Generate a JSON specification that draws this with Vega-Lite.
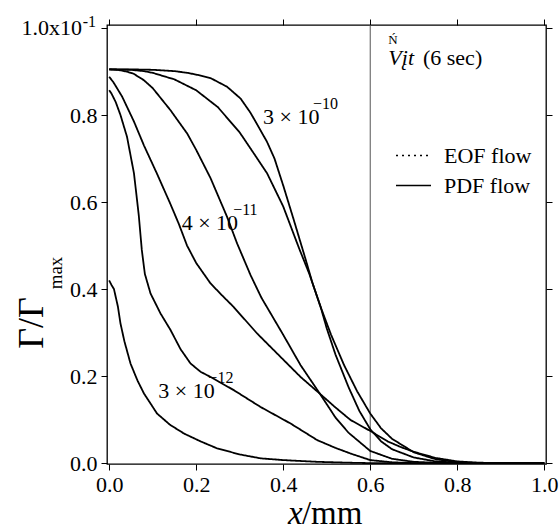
{
  "$schema": "https://vega.github.io/schema/vega-lite/v6.json",
  "width": 439,
  "height": 439,
  "autosize": {"type": "none"},
  "padding": {"left": 107, "top": 25, "right": 14, "bottom": 68},
  "config": {
    "font": "Liberation Serif",
    "text": {"font": "Liberation Serif"},
    "view": {"stroke": "black", "strokeWidth": 1.3},
    "axis": {"grid": false, "domain": false, "ticks": true, "tickColor": "black", "tickSize": 6, "tickWidth": 1, "labelFont": "Liberation Serif", "labelFontSize": 22, "labelColor": "black", "labelPadding": 4}
  },
  "datasets": {
    "curves": [
      {"c": "A", "flow": "PDF flow", "x": 0, "y": 0.905}, {"c": "A", "flow": "PDF flow", "x": 0.05, "y": 0.905}, {"c": "A", "flow": "PDF flow", "x": 0.1, "y": 0.904}, {"c": "A", "flow": "PDF flow", "x": 0.15, "y": 0.901}, {"c": "A", "flow": "PDF flow", "x": 0.18, "y": 0.897}, {"c": "A", "flow": "PDF flow", "x": 0.2, "y": 0.893}, {"c": "A", "flow": "PDF flow", "x": 0.233, "y": 0.885}, {"c": "A", "flow": "PDF flow", "x": 0.271, "y": 0.865}, {"c": "A", "flow": "PDF flow", "x": 0.302, "y": 0.838}, {"c": "A", "flow": "PDF flow", "x": 0.325, "y": 0.805}, {"c": "A", "flow": "PDF flow", "x": 0.345, "y": 0.77}, {"c": "A", "flow": "PDF flow", "x": 0.363, "y": 0.738}, {"c": "A", "flow": "PDF flow", "x": 0.38, "y": 0.7}, {"c": "A", "flow": "PDF flow", "x": 0.401, "y": 0.635}, {"c": "A", "flow": "PDF flow", "x": 0.424, "y": 0.56}, {"c": "A", "flow": "PDF flow", "x": 0.451, "y": 0.47}, {"c": "A", "flow": "PDF flow", "x": 0.467, "y": 0.415}, {"c": "A", "flow": "PDF flow", "x": 0.486, "y": 0.359}, {"c": "A", "flow": "PDF flow", "x": 0.5, "y": 0.31}, {"c": "A", "flow": "PDF flow", "x": 0.52, "y": 0.25}, {"c": "A", "flow": "PDF flow", "x": 0.55, "y": 0.175}, {"c": "A", "flow": "PDF flow", "x": 0.575, "y": 0.12}, {"c": "A", "flow": "PDF flow", "x": 0.6, "y": 0.078}, {"c": "A", "flow": "PDF flow", "x": 0.625, "y": 0.05}, {"c": "A", "flow": "PDF flow", "x": 0.65, "y": 0.032}, {"c": "A", "flow": "PDF flow", "x": 0.7, "y": 0.013}, {"c": "A", "flow": "PDF flow", "x": 0.75, "y": 0.004}, {"c": "A", "flow": "PDF flow", "x": 0.8, "y": 0.001}, {"c": "A", "flow": "PDF flow", "x": 0.85, "y": 0}, {"c": "A", "flow": "PDF flow", "x": 1.0, "y": 0},
      {"c": "B", "flow": "PDF flow", "x": 0, "y": 0.905}, {"c": "B", "flow": "PDF flow", "x": 0.05, "y": 0.904}, {"c": "B", "flow": "PDF flow", "x": 0.08, "y": 0.901}, {"c": "B", "flow": "PDF flow", "x": 0.1, "y": 0.897}, {"c": "B", "flow": "PDF flow", "x": 0.15, "y": 0.882}, {"c": "B", "flow": "PDF flow", "x": 0.2, "y": 0.857}, {"c": "B", "flow": "PDF flow", "x": 0.25, "y": 0.818}, {"c": "B", "flow": "PDF flow", "x": 0.3, "y": 0.76}, {"c": "B", "flow": "PDF flow", "x": 0.325, "y": 0.723}, {"c": "B", "flow": "PDF flow", "x": 0.363, "y": 0.666}, {"c": "B", "flow": "PDF flow", "x": 0.4, "y": 0.59}, {"c": "B", "flow": "PDF flow", "x": 0.436, "y": 0.495}, {"c": "B", "flow": "PDF flow", "x": 0.46, "y": 0.435}, {"c": "B", "flow": "PDF flow", "x": 0.486, "y": 0.359}, {"c": "B", "flow": "PDF flow", "x": 0.51, "y": 0.295}, {"c": "B", "flow": "PDF flow", "x": 0.54, "y": 0.225}, {"c": "B", "flow": "PDF flow", "x": 0.57, "y": 0.165}, {"c": "B", "flow": "PDF flow", "x": 0.6, "y": 0.114}, {"c": "B", "flow": "PDF flow", "x": 0.625, "y": 0.08}, {"c": "B", "flow": "PDF flow", "x": 0.65, "y": 0.056}, {"c": "B", "flow": "PDF flow", "x": 0.7, "y": 0.025}, {"c": "B", "flow": "PDF flow", "x": 0.75, "y": 0.009}, {"c": "B", "flow": "PDF flow", "x": 0.8, "y": 0.002}, {"c": "B", "flow": "PDF flow", "x": 0.85, "y": 0}, {"c": "B", "flow": "PDF flow", "x": 1.0, "y": 0},
      {"c": "C", "flow": "PDF flow", "x": 0, "y": 0.905}, {"c": "C", "flow": "PDF flow", "x": 0.02, "y": 0.904}, {"c": "C", "flow": "PDF flow", "x": 0.04, "y": 0.9}, {"c": "C", "flow": "PDF flow", "x": 0.056, "y": 0.895}, {"c": "C", "flow": "PDF flow", "x": 0.08, "y": 0.88}, {"c": "C", "flow": "PDF flow", "x": 0.1, "y": 0.862}, {"c": "C", "flow": "PDF flow", "x": 0.141, "y": 0.811}, {"c": "C", "flow": "PDF flow", "x": 0.179, "y": 0.758}, {"c": "C", "flow": "PDF flow", "x": 0.2, "y": 0.72}, {"c": "C", "flow": "PDF flow", "x": 0.233, "y": 0.655}, {"c": "C", "flow": "PDF flow", "x": 0.271, "y": 0.566}, {"c": "C", "flow": "PDF flow", "x": 0.294, "y": 0.505}, {"c": "C", "flow": "PDF flow", "x": 0.325, "y": 0.432}, {"c": "C", "flow": "PDF flow", "x": 0.35, "y": 0.38}, {"c": "C", "flow": "PDF flow", "x": 0.4, "y": 0.295}, {"c": "C", "flow": "PDF flow", "x": 0.44, "y": 0.225}, {"c": "C", "flow": "PDF flow", "x": 0.484, "y": 0.16}, {"c": "C", "flow": "PDF flow", "x": 0.52, "y": 0.105}, {"c": "C", "flow": "PDF flow", "x": 0.55, "y": 0.07}, {"c": "C", "flow": "PDF flow", "x": 0.6, "y": 0.028}, {"c": "C", "flow": "PDF flow", "x": 0.65, "y": 0.01}, {"c": "C", "flow": "PDF flow", "x": 0.7, "y": 0.003}, {"c": "C", "flow": "PDF flow", "x": 0.75, "y": 0.001}, {"c": "C", "flow": "PDF flow", "x": 0.8, "y": 0}, {"c": "C", "flow": "PDF flow", "x": 1.0, "y": 0},
      {"c": "D", "flow": "PDF flow", "x": 0, "y": 0.888}, {"c": "D", "flow": "PDF flow", "x": 0.01, "y": 0.875}, {"c": "D", "flow": "PDF flow", "x": 0.03, "y": 0.842}, {"c": "D", "flow": "PDF flow", "x": 0.057, "y": 0.785}, {"c": "D", "flow": "PDF flow", "x": 0.08, "y": 0.73}, {"c": "D", "flow": "PDF flow", "x": 0.11, "y": 0.665}, {"c": "D", "flow": "PDF flow", "x": 0.141, "y": 0.595}, {"c": "D", "flow": "PDF flow", "x": 0.16, "y": 0.55}, {"c": "D", "flow": "PDF flow", "x": 0.179, "y": 0.5}, {"c": "D", "flow": "PDF flow", "x": 0.2, "y": 0.46}, {"c": "D", "flow": "PDF flow", "x": 0.233, "y": 0.413}, {"c": "D", "flow": "PDF flow", "x": 0.26, "y": 0.385}, {"c": "D", "flow": "PDF flow", "x": 0.286, "y": 0.359}, {"c": "D", "flow": "PDF flow", "x": 0.34, "y": 0.298}, {"c": "D", "flow": "PDF flow", "x": 0.409, "y": 0.229}, {"c": "D", "flow": "PDF flow", "x": 0.44, "y": 0.198}, {"c": "D", "flow": "PDF flow", "x": 0.478, "y": 0.165}, {"c": "D", "flow": "PDF flow", "x": 0.52, "y": 0.128}, {"c": "D", "flow": "PDF flow", "x": 0.555, "y": 0.099}, {"c": "D", "flow": "PDF flow", "x": 0.6, "y": 0.074}, {"c": "D", "flow": "PDF flow", "x": 0.64, "y": 0.05}, {"c": "D", "flow": "PDF flow", "x": 0.67, "y": 0.037}, {"c": "D", "flow": "PDF flow", "x": 0.7, "y": 0.026}, {"c": "D", "flow": "PDF flow", "x": 0.75, "y": 0.012}, {"c": "D", "flow": "PDF flow", "x": 0.8, "y": 0.004}, {"c": "D", "flow": "PDF flow", "x": 0.85, "y": 0.001}, {"c": "D", "flow": "PDF flow", "x": 0.9, "y": 0}, {"c": "D", "flow": "PDF flow", "x": 1.0, "y": 0},
      {"c": "E", "flow": "PDF flow", "x": 0, "y": 0.857}, {"c": "E", "flow": "PDF flow", "x": 0.005, "y": 0.85}, {"c": "E", "flow": "PDF flow", "x": 0.015, "y": 0.83}, {"c": "E", "flow": "PDF flow", "x": 0.026, "y": 0.8}, {"c": "E", "flow": "PDF flow", "x": 0.041, "y": 0.75}, {"c": "E", "flow": "PDF flow", "x": 0.057, "y": 0.666}, {"c": "E", "flow": "PDF flow", "x": 0.068, "y": 0.57}, {"c": "E", "flow": "PDF flow", "x": 0.075, "y": 0.49}, {"c": "E", "flow": "PDF flow", "x": 0.082, "y": 0.435}, {"c": "E", "flow": "PDF flow", "x": 0.095, "y": 0.39}, {"c": "E", "flow": "PDF flow", "x": 0.118, "y": 0.344}, {"c": "E", "flow": "PDF flow", "x": 0.141, "y": 0.306}, {"c": "E", "flow": "PDF flow", "x": 0.164, "y": 0.262}, {"c": "E", "flow": "PDF flow", "x": 0.187, "y": 0.229}, {"c": "E", "flow": "PDF flow", "x": 0.21, "y": 0.21}, {"c": "E", "flow": "PDF flow", "x": 0.233, "y": 0.198}, {"c": "E", "flow": "PDF flow", "x": 0.286, "y": 0.168}, {"c": "E", "flow": "PDF flow", "x": 0.348, "y": 0.129}, {"c": "E", "flow": "PDF flow", "x": 0.417, "y": 0.091}, {"c": "E", "flow": "PDF flow", "x": 0.478, "y": 0.053}, {"c": "E", "flow": "PDF flow", "x": 0.52, "y": 0.035}, {"c": "E", "flow": "PDF flow", "x": 0.555, "y": 0.022}, {"c": "E", "flow": "PDF flow", "x": 0.6, "y": 0.007}, {"c": "E", "flow": "PDF flow", "x": 0.65, "y": 0.002}, {"c": "E", "flow": "PDF flow", "x": 0.7, "y": 0}, {"c": "E", "flow": "PDF flow", "x": 1.0, "y": 0},
      {"c": "F", "flow": "PDF flow", "x": 0, "y": 0.42}, {"c": "F", "flow": "PDF flow", "x": 0.005, "y": 0.41}, {"c": "F", "flow": "PDF flow", "x": 0.011, "y": 0.4}, {"c": "F", "flow": "PDF flow", "x": 0.02, "y": 0.36}, {"c": "F", "flow": "PDF flow", "x": 0.026, "y": 0.321}, {"c": "F", "flow": "PDF flow", "x": 0.035, "y": 0.28}, {"c": "F", "flow": "PDF flow", "x": 0.049, "y": 0.229}, {"c": "F", "flow": "PDF flow", "x": 0.065, "y": 0.19}, {"c": "F", "flow": "PDF flow", "x": 0.08, "y": 0.16}, {"c": "F", "flow": "PDF flow", "x": 0.11, "y": 0.114}, {"c": "F", "flow": "PDF flow", "x": 0.14, "y": 0.088}, {"c": "F", "flow": "PDF flow", "x": 0.172, "y": 0.068}, {"c": "F", "flow": "PDF flow", "x": 0.21, "y": 0.05}, {"c": "F", "flow": "PDF flow", "x": 0.248, "y": 0.034}, {"c": "F", "flow": "PDF flow", "x": 0.3, "y": 0.02}, {"c": "F", "flow": "PDF flow", "x": 0.348, "y": 0.011}, {"c": "F", "flow": "PDF flow", "x": 0.4, "y": 0.007}, {"c": "F", "flow": "PDF flow", "x": 0.478, "y": 0.003}, {"c": "F", "flow": "PDF flow", "x": 0.55, "y": 0.001}, {"c": "F", "flow": "PDF flow", "x": 0.6, "y": 0}, {"c": "F", "flow": "PDF flow", "x": 1.0, "y": 0}
    ],
    "labels": [
      {"role": "main", "x": 0.3535, "y": 0.796, "text": "3 × 10"},
      {"role": "main", "x": 0.1667, "y": 0.552, "text": "4 × 10"},
      {"role": "main", "x": 0.113, "y": 0.166, "text": "3 × 10"},
      {"role": "sup", "x": 0.4685, "y": 0.825, "text": "−10"},
      {"role": "sup", "x": 0.285, "y": 0.582, "text": "−11"},
      {"role": "sup", "x": 0.228, "y": 0.196, "text": "−12"},
      {"role": "sup", "x": -0.061, "y": 1.014, "text": "-1"},
      {"role": "axislabel", "x": -0.0625, "y": 1.0, "text": "1.0x10"},
      {"role": "italic", "x": 0.6417, "y": 0.932, "text": "Vįt"},
      {"role": "plain", "x": 0.7212, "y": 0.932, "text": "(6 sec)"},
      {"role": "small", "x": 0.6417, "y": 0.973, "text": "Ń"},
      {"role": "ytitle", "x": -0.152, "y": 0.322, "text": "Γ/Γ"},
      {"role": "ysub", "x": -0.108, "y": 0.437, "text": "max"},
      {"role": "xtitleItalic", "x": 0.411, "y": -0.14, "text": "x"},
      {"role": "xtitle", "x": 0.443, "y": -0.14, "text": "/mm"}
    ]
  },
  "layer": [
    {
      "data": {"values": [{"x": 0.6}]},
      "mark": {"type": "rule", "color": "#555555", "strokeWidth": 1},
      "encoding": {
        "x": {"field": "x", "type": "quantitative", "scale": {"domain": [-0.005, 1.004], "nice": false, "zero": false}, "axis": {"orient": "top", "labels": false, "title": null, "values": [0, 0.2, 0.4, 0.6, 0.8, 1.0]}}
      }
    },
    {
      "data": {"name": "curves"},
      "mark": {"type": "line", "color": "black", "strokeWidth": 1.8},
      "encoding": {
        "x": {"field": "x", "type": "quantitative", "scale": {"domain": [-0.005, 1.004], "nice": false, "zero": false}, "axis": {"orient": "bottom", "title": null, "values": [0, 0.2, 0.4, 0.6, 0.8, 1.0], "format": ".1f", "labelFont": "Liberation Serif", "labelFontSize": 22}},
        "y": {"field": "y", "type": "quantitative", "scale": {"domain": [-0.002, 1.007], "nice": false, "zero": false}, "axis": {"orient": "left", "title": null, "values": [0, 0.2, 0.4, 0.6, 0.8, 1.0], "labelFont": "Liberation Serif", "labelFontSize": 22, "labelExpr": "datum.value > 0.95 ? '' : format(datum.value, '.1f')"}},
        "detail": {"field": "c"},
        "strokeDash": {"field": "flow", "type": "nominal", "scale": {"domain": ["EOF flow", "PDF flow"], "range": [[2, 4], [1, 0]]},
          "legend": {"orient": "none", "legendX": 288, "legendY": 112, "title": null, "symbolType": "stroke", "symbolSize": 1225, "symbolStrokeWidth": 1.6, "symbolStrokeColor": "black", "labelFontSize": 22, "labelFont": "Liberation Serif", "labelColor": "black", "labelOffset": 12, "rowPadding": -10, "padding": 0}}
      }
    },
    {
      "data": {"name": "labels"},
      "transform": [{"filter": "datum.role == 'main'"}],
      "mark": {"type": "text", "align": "left", "baseline": "middle", "fontSize": 22, "color": "black"},
      "encoding": {
        "x": {"field": "x", "type": "quantitative", "scale": {"domain": [-0.005, 1.004], "nice": false, "zero": false}, "axis": null},
        "y": {"field": "y", "type": "quantitative", "scale": {"domain": [-0.002, 1.007], "nice": false, "zero": false}, "axis": {"orient": "right", "labels": false, "title": null, "values": [0, 0.2, 0.4, 0.6, 0.8, 1.0]}},
        "text": {"field": "text"}
      }
    },
    {
      "data": {"name": "labels"},
      "transform": [{"filter": "datum.role == 'sup'"}],
      "mark": {"type": "text", "align": "left", "baseline": "middle", "fontSize": 16, "color": "black"},
      "encoding": {
        "x": {"field": "x", "type": "quantitative", "axis": null},
        "y": {"field": "y", "type": "quantitative", "axis": null},
        "text": {"field": "text"}
      }
    },
    {
      "data": {"name": "labels"},
      "transform": [{"filter": "datum.role == 'axislabel'"}],
      "mark": {"type": "text", "align": "right", "baseline": "middle", "fontSize": 22, "color": "black"},
      "encoding": {
        "x": {"field": "x", "type": "quantitative", "axis": null},
        "y": {"field": "y", "type": "quantitative", "axis": null},
        "text": {"field": "text"}
      }
    },
    {
      "data": {"name": "labels"},
      "transform": [{"filter": "datum.role == 'italic'"}],
      "mark": {"type": "text", "align": "left", "baseline": "middle", "fontSize": 22, "fontStyle": "italic", "color": "black"},
      "encoding": {
        "x": {"field": "x", "type": "quantitative", "axis": null},
        "y": {"field": "y", "type": "quantitative", "axis": null},
        "text": {"field": "text"}
      }
    },
    {
      "data": {"name": "labels"},
      "transform": [{"filter": "datum.role == 'plain'"}],
      "mark": {"type": "text", "align": "left", "baseline": "middle", "fontSize": 22, "color": "black"},
      "encoding": {
        "x": {"field": "x", "type": "quantitative", "axis": null},
        "y": {"field": "y", "type": "quantitative", "axis": null},
        "text": {"field": "text"}
      }
    },
    {
      "data": {"name": "labels"},
      "transform": [{"filter": "datum.role == 'small'"}],
      "mark": {"type": "text", "align": "left", "baseline": "middle", "fontSize": 13, "color": "black"},
      "encoding": {
        "x": {"field": "x", "type": "quantitative", "axis": null},
        "y": {"field": "y", "type": "quantitative", "axis": null},
        "text": {"field": "text"}
      }
    },
    {
      "data": {"name": "labels"},
      "transform": [{"filter": "datum.role == 'ytitle'"}],
      "mark": {"type": "text", "align": "center", "baseline": "alphabetic", "fontSize": 36, "angle": 270, "color": "black"},
      "encoding": {
        "x": {"field": "x", "type": "quantitative", "axis": null},
        "y": {"field": "y", "type": "quantitative", "axis": null},
        "text": {"field": "text"}
      }
    },
    {
      "data": {"name": "labels"},
      "transform": [{"filter": "datum.role == 'ysub'"}],
      "mark": {"type": "text", "align": "center", "baseline": "alphabetic", "fontSize": 19, "angle": 270, "color": "black"},
      "encoding": {
        "x": {"field": "x", "type": "quantitative", "axis": null},
        "y": {"field": "y", "type": "quantitative", "axis": null},
        "text": {"field": "text"}
      }
    },
    {
      "data": {"name": "labels"},
      "transform": [{"filter": "datum.role == 'xtitleItalic'"}],
      "mark": {"type": "text", "align": "left", "baseline": "alphabetic", "fontSize": 33, "fontStyle": "italic", "color": "black"},
      "encoding": {
        "x": {"field": "x", "type": "quantitative", "axis": null},
        "y": {"field": "y", "type": "quantitative", "axis": null},
        "text": {"field": "text"}
      }
    },
    {
      "data": {"name": "labels"},
      "transform": [{"filter": "datum.role == 'xtitle'"}],
      "mark": {"type": "text", "align": "left", "baseline": "alphabetic", "fontSize": 33, "color": "black"},
      "encoding": {
        "x": {"field": "x", "type": "quantitative", "axis": null},
        "y": {"field": "y", "type": "quantitative", "axis": null},
        "text": {"field": "text"}
      }
    }
  ],
  "resolve": {"axis": {"x": "independent", "y": "independent"}}
}
